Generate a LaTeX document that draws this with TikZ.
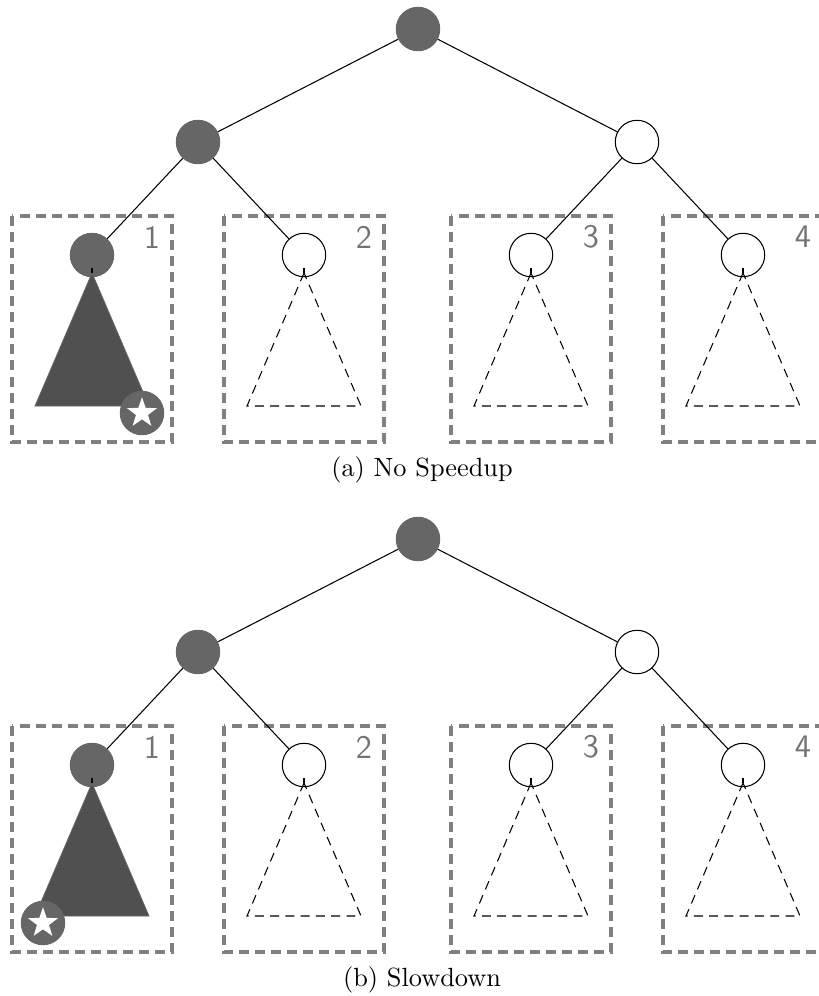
\documentclass[tikz,border=0pt]{standalone}
\usepackage{tikz}
\usetikzlibrary{shapes.geometric}
\definecolor{visited}{RGB}{102,102,102}
\definecolor{subgray}{RGB}{80,80,80}
\definecolor{partgray}{RGB}{128,128,128}

\begin{document}
\begin{tikzpicture}[x=0.38pt, y=-0.38pt,
    tn/.style={circle, draw, inner sep=0pt, minimum size=16.5pt},
    seen/.style={tn, draw=visited, fill=visited},
    fresh/.style={tn, fill=white},
    part/.style={draw=partgray, line width=1.2pt, dash pattern=on 3.8pt off 2.3pt},
    num/.style={text=partgray!90!black, font=\sffamily\fontsize{12.5}{12.5}\selectfont},
    subfull/.style={fill=subgray, draw=visited, line width=0.3pt},
    subnone/.style={draw, dash pattern=on 3.4pt off 2.4pt}]
  \path[use as bounding box, clip] (0,0) rectangle (819,996);
  \foreach \oy/\cap/\sx in {0/{(a) No Speedup}/50, 510/{(b) Slowdown}/-49} {
    % upper part of the tree
    \node[seen] (r\oy) at (418, 29+\oy) {};
    \node[seen] (l\oy) at (198, 142+\oy) {};
    \node[fresh] (g\oy) at (637, 142+\oy) {};
    \draw (r\oy) -- (l\oy);
    \draw (r\oy) -- (g\oy);
    % the four sub-problems
    \foreach \i/\lx/\st/\tri/\up in {1/92/seen/subfull/l, 2/304/fresh/subnone/l,
                                     3/531/fresh/subnone/g, 4/743/fresh/subnone/g} {
      \draw[part] (\lx-80, 216+\oy) rectangle (\lx+80, 442+\oy);
      \node[num] (n\i-\oy) at (\lx+60, 237+\oy) {\i};
      \node[\st] (v\i-\oy) at (\lx, 255+\oy) {};
      \draw (\up\oy) -- (v\i-\oy);
      \coordinate (a\i-\oy) at (\lx, 273+\oy);
      \draw[\tri] (a\i-\oy) -- ++(-57,133) -- ++(114,0) -- cycle;
      \draw ([yshift=-13*0.38pt]v\i-\oy.center) -- (a\i-\oy);
    }
    % where the solution sits
    \node[seen] (s\oy) at (92+\sx, 413+\oy) {};
    \node[star, star points=5, star point ratio=2.5, fill=white,
          inner sep=0pt, minimum size=12pt] at (s\oy) {};
    \node (c\oy) at (422, 470+\oy) {\cap};
  }
\end{tikzpicture}
\end{document}
